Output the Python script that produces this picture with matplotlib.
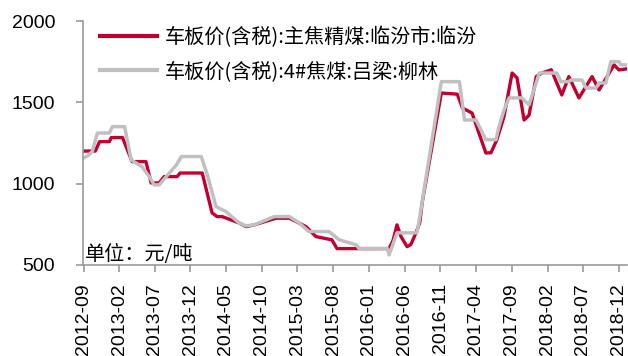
import matplotlib
matplotlib.use("Agg")
import matplotlib.pyplot as plt
import pandas as pd

plt.rcParams['font.family'] = ['Liberation Sans', 'Noto Sans CJK SC', 'DejaVu Sans']

# 车板价(含税):主焦精煤:临汾市:临汾
linfen_dates = [
    "2012-09-01", "2012-10-21", "2012-11-08", "2012-12-20", "2012-12-28", "2013-02-14",
    "2013-03-27", "2013-05-25", "2013-06-16", "2013-07-20", "2013-08-11", "2013-10-05",
    "2013-10-18", "2014-01-20", "2014-03-03", "2014-03-24", "2014-04-15", "2014-06-26",
    "2014-07-26", "2014-08-30", "2014-12-01", "2015-01-27", "2015-04-08", "2015-05-20",
    "2015-07-27", "2015-08-18", "2016-03-27", "2016-04-13", "2016-04-30", "2016-05-17",
    "2016-06-12", "2016-06-28", "2016-07-20", "2016-08-05", "2016-08-15", "2016-11-05",
    "2017-01-12", "2017-02-03", "2017-03-16", "2017-05-14", "2017-06-05", "2017-06-30",
    "2017-07-30", "2017-09-03", "2017-09-24", "2017-10-24", "2017-11-14", "2017-12-15",
    "2018-01-08", "2018-02-17", "2018-04-03", "2018-05-03", "2018-06-15", "2018-08-10",
    "2018-09-09", "2018-11-12", "2018-12-03", "2019-01-02",
]
linfen_price = [
    1200, 1200, 1258, 1258, 1283, 1283,
    1135, 1135, 1004, 1004, 1043, 1043,
    1065, 1065, 820, 797, 797, 758,
    735, 746, 787, 787, 735, 674,
    654, 600, 600, 650, 746, 674,
    612, 625, 697, 760, 880, 1557,
    1550, 1465, 1434, 1188, 1190, 1270,
    1410, 1680, 1650, 1391, 1420, 1658,
    1680, 1700, 1545, 1658, 1527, 1658,
    1576, 1730, 1699, 1705,
]

# 车板价(含税):4#焦煤:吕梁:柳林
liulin_dates = [
    "2012-09-01", "2012-09-18", "2012-10-08", "2012-10-30", "2012-12-20", "2013-01-02",
    "2013-02-23", "2013-03-23", "2013-05-08", "2013-06-08", "2013-06-29", "2013-07-20",
    "2013-09-02", "2013-10-02", "2013-10-23", "2014-01-16", "2014-02-11", "2014-03-20",
    "2014-05-02", "2014-06-26", "2014-07-26", "2014-08-30", "2014-11-23", "2015-01-27",
    "2015-03-09", "2015-04-20", "2015-07-15", "2015-08-27", "2015-11-08", "2015-11-20",
    "2016-03-20", "2016-03-27", "2016-04-30", "2016-07-24", "2016-08-01", "2016-11-05",
    "2017-01-21", "2017-02-12", "2017-04-02", "2017-05-14", "2017-06-26", "2017-07-09",
    "2017-07-30", "2017-08-21", "2017-10-15", "2017-11-14", "2017-12-28", "2018-03-13",
    "2018-03-30", "2018-05-03", "2018-05-12", "2018-06-28", "2018-07-15", "2018-08-27",
    "2018-09-09", "2018-10-08", "2018-10-29", "2018-12-03", "2018-12-11", "2019-01-02",
]
liulin_price = [
    1158, 1170, 1197, 1311, 1311, 1350,
    1350, 1145, 1104, 1043, 992, 992,
    1065, 1115, 1166, 1166, 1053, 858,
    827, 758, 740, 746, 797, 797,
    758, 705, 705, 654, 623, 600,
    600, 561, 697, 697, 758, 1627,
    1627, 1391, 1391, 1270, 1270, 1350,
    1450, 1527, 1527, 1484, 1680, 1680,
    1627, 1627, 1637, 1637, 1588, 1588,
    1619, 1619, 1750, 1750, 1730, 1730,
]

legend_labels = ["车板价(含税):主焦精煤:临汾市:临汾", "车板价(含税):4#焦煤:吕梁:柳林"]
tick_labels = ["2012-09", "2013-02", "2013-07", "2013-12", "2014-05", "2014-10",
               "2015-03", "2015-08", "2016-01", "2016-06", "2016-11", "2017-04",
               "2017-09", "2018-02", "2018-07", "2018-12"]
y_ticks = [500, 1000, 1500, 2000]

fig = plt.figure(figsize=(6.28, 3.56), dpi=100)
ax = fig.add_axes([0.132, 0.256, 0.866, 0.685])

red = "#C00030"
gray = "#C0C0C0"
ax.plot(pd.to_datetime(linfen_dates), linfen_price, color=red, lw=2.4,
        label=legend_labels[0], solid_joinstyle="round")
ax.plot(pd.to_datetime(liulin_dates), liulin_price, color=gray, lw=2.5,
        label=legend_labels[1], solid_joinstyle="round")

ax.set_ylim(500, 2000)
ax.set_yticks(y_ticks)
ax.set_xlim(pd.Timestamp("2012-08-29"), pd.Timestamp("2019-01-05"))
ax.set_xticks(pd.to_datetime([t + "-01" for t in tick_labels]))
ax.set_xticklabels(tick_labels, rotation=90)

for s in ["top", "right"]:
    ax.spines[s].set_visible(False)
for s in ["left", "bottom"]:
    ax.spines[s].set_color("#999999")
    ax.spines[s].set_linewidth(1.2)
ax.tick_params(axis="both", colors="#999999", labelcolor="black", labelsize=14,
               length=5, width=1.2, direction="out")
ax.tick_params(axis="y", pad=15)
ax.tick_params(axis="x", pad=8)

leg = ax.legend(loc="upper left", frameon=False, handlelength=2.84,
                handletextpad=0.36, labelspacing=0.66, borderpad=0.4,
                borderaxespad=0, bbox_to_anchor=(0.017, 1.01),
                prop={"family": ["Noto Sans CJK SC"], "size": 14.5})
for line in leg.get_lines():
    line.set_linewidth(3)

ax.text(0.004, 0.0, "单位：元/吨", transform=ax.transAxes, ha="left", va="bottom",
        fontsize=14.5, family=["Noto Sans CJK SC"])

fig.savefig("out.png", dpi=100)
